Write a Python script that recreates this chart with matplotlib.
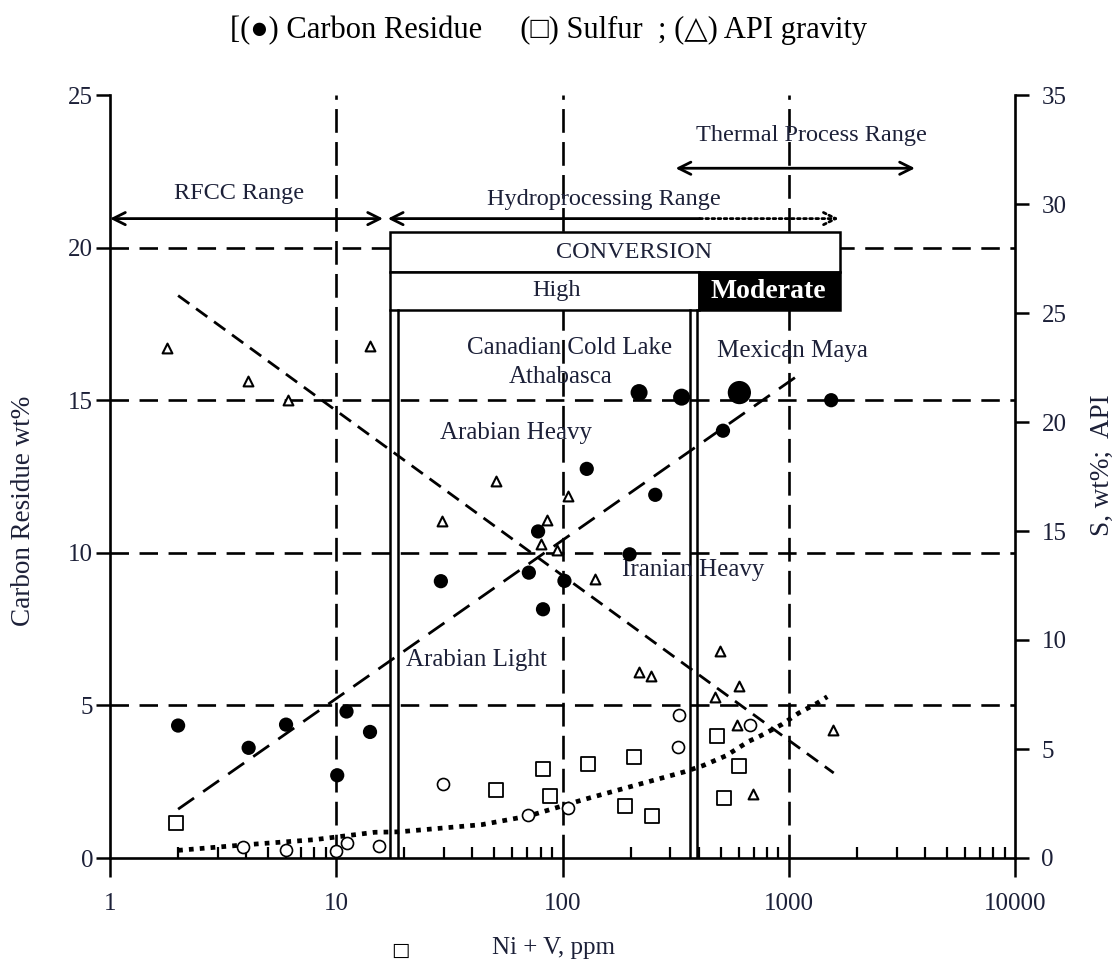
import numpy as np
import matplotlib
matplotlib.use('Agg')
import matplotlib.pyplot as plt
from matplotlib.patches import Rectangle
from matplotlib.ticker import FixedLocator, LogLocator, NullFormatter, FixedFormatter

plt.rcParams['font.family'] = ['Liberation Serif', 'DejaVu Sans']

# ---------------- data ----------------
# Carbon residue, wt% (left axis)
carbon_x = [2.0, 4.1, 6.0, 10.1, 11.1, 14.1, 29, 71, 78, 82, 102, 128, 198, 218, 257, 336, 512, 605, 1540]
carbon_y = [4.34, 3.61, 4.37, 2.71, 4.80, 4.13, 9.07, 9.35, 10.7, 8.15, 9.08, 12.75, 9.95, 15.25, 11.9, 15.1, 14.0, 15.25, 15.0]

# API gravity (right axis)
api_x = [1.79, 4.06, 6.12, 14.1, 29.3, 51, 80, 85.5, 94.4, 106, 139.6, 218, 246, 474, 499, 590, 601, 695, 1567]
api_y = [23.4, 21.9, 21.0, 23.5, 15.45, 17.3, 14.4, 15.5, 14.15, 16.6, 12.8, 8.53, 8.37, 7.4, 9.5, 6.1, 7.9, 2.93, 5.87]

# Sulfur, wt% (right axis, open squares)
sulfur_x = [1.95, 50.7, 81.6, 88, 129, 189, 207, 248, 482, 516, 601]
sulfur_y = [1.6, 3.14, 4.1, 2.85, 4.31, 2.38, 4.62, 1.93, 5.6, 2.75, 4.2]

# Sulfur, wt% (right axis, open circles)
other_x = [3.86, 6.0, 10.0, 11.2, 15.4, 29.7, 70.3, 106, 323, 328, 676]
other_y = [0.5, 0.37, 0.3, 0.68, 0.55, 3.4, 1.98, 2.3, 5.07, 6.57, 6.1]

# trend lines
carbon_fit_x = [2.0, 1070]
carbon_fit_y = [1.6, 15.75]
api_fit_x = [2.0, 1580]
api_fit_y = [25.8, 3.9]
sulfur_fit_x = [2.0, 3.9, 8, 14.8, 18.9, 44, 71, 122, 204, 345, 418, 528, 665, 749, 934, 1107, 1334, 1480]
sulfur_fit_y = [0.35, 0.6, 0.84, 1.18, 1.2, 1.53, 1.93, 2.66, 3.3, 3.95, 4.24, 4.69, 5.35, 5.6, 6.13, 6.65, 7.1, 7.4]

# axes ticks
x_ticks = [1, 10, 100, 1000, 10000]
x_tick_labels = ['1', '10', '100', '1000', '10000']
left_ticks = [0, 5, 10, 15, 20, 25]
right_ticks = [0, 5, 10, 15, 20, 25, 30, 35]

# process ranges (x in ppm)
rfcc_range = [1.0, 16.1]
hydro_range = [16.9, 404, 1664]
thermal_range = [316, 3613]
conversion_box = [17.3, 1683]
high_moderate_split = 400
boundary_x = [17.3, 18.8, 365, 392]

# crude labels
crude_names = ['Canadian Cold Lake', 'Athabasca', 'Arabian Heavy', 'Iranian Heavy', 'Arabian Light', 'Mexican Maya']
crude_x = [108, 98.5, 62, 380, 41.7, 1042]
crude_y = [16.72, 15.77, 13.93, 9.44, 6.49, 16.6]

TXT = '#1c2038'

fig = plt.figure(figsize=(11.17, 9.63), dpi=100)
ax = fig.add_axes([110/1117, 1-858/963, 905/1117, 763/963])
ax.set_xscale('log')
ax.set_xlim(1, 10000)
ax.set_ylim(0, 25)
ax2 = ax.twinx()
ax2.set_ylim(0, 35)
ax.set_zorder(1)
ax2.set_zorder(2)
ax.patch.set_visible(True)
ax2.patch.set_visible(False)

# gridlines
for yv in left_ticks[1:-1]:
    ax.axhline(yv, color='k', lw=1.9, dashes=(7, 4), zorder=1)
for xv in x_ticks[1:-1]:
    ax.axvline(xv, color='k', lw=1.9, dashes=(9, 3.5), zorder=1)

# boxes
lw_box = 1.8
ax.add_patch(Rectangle((conversion_box[0], 19.2), conversion_box[1]-conversion_box[0], 1.3,
                       facecolor='white', edgecolor='k', lw=lw_box, zorder=3))
ax.add_patch(Rectangle((conversion_box[0], 17.97), high_moderate_split-conversion_box[0], 1.23,
                       facecolor='white', edgecolor='k', lw=lw_box, zorder=3))
ax.add_patch(Rectangle((high_moderate_split, 17.97), conversion_box[1]-high_moderate_split, 1.23,
                       facecolor='black', edgecolor='k', lw=lw_box, zorder=3))
for bx in boundary_x:
    ax.plot([bx, bx], [0, 17.97], color='k', lw=1.8, zorder=3)

ax.text(208, 19.85, 'CONVERSION', ha='center', va='center', fontsize=17.5, color=TXT, zorder=4)
ax.text(94, 18.58, 'High', ha='center', va='center', fontsize=17.5, color=TXT, zorder=4)
ax.text(816, 18.55, 'Moderate', ha='center', va='center', fontsize=20, color='white',
        fontweight='bold', zorder=4)

# range arrows
arr = dict(arrowstyle='<->', lw=2.0, color='k', mutation_scale=22, shrinkA=0, shrinkB=0)
ax.annotate('', xy=(rfcc_range[0], 20.95), xytext=(rfcc_range[1], 20.95), arrowprops=arr,
            annotation_clip=False, zorder=4)
ax.annotate('', xy=(thermal_range[0], 22.6), xytext=(thermal_range[1], 22.6), arrowprops=arr, zorder=4)
ax.annotate('', xy=(hydro_range[0], 20.95), xytext=(hydro_range[1], 20.95),
            arrowprops=dict(arrowstyle='->', lw=2.0, color='k', mutation_scale=22, shrinkA=0, shrinkB=0), zorder=4)
ax.annotate('', xy=(hydro_range[2], 20.95), xytext=(hydro_range[1], 20.95),
            arrowprops=dict(arrowstyle='->', lw=2.0, color='k', mutation_scale=22, shrinkA=0, shrinkB=0,
                            linestyle=(0, (1, 1.2))), zorder=4)
ax.text(1260, 23.67, 'Thermal Process Range', ha='center', va='center', fontsize=17.5, color=TXT, zorder=4)
ax.text(3.72, 21.77, 'RFCC Range', ha='center', va='center', fontsize=17.5, color=TXT, zorder=4)
ax.text(153, 21.57, 'Hydroprocessing Range', ha='center', va='center', fontsize=17.5, color=TXT, zorder=4)

for name, cx, cy in zip(crude_names, crude_x, crude_y):
    ax.text(cx, cy, name, ha='center', va='center', fontsize=18, color=TXT, zorder=4)

# trend lines
ax.plot(carbon_fit_x, carbon_fit_y, color='k', lw=2.0, dashes=(7, 4), zorder=4)
ax2.plot(api_fit_x, api_fit_y, color='k', lw=2.0, dashes=(5, 3), zorder=4)
ax2.plot(sulfur_fit_x, sulfur_fit_y, color='k', lw=3.4, dashes=(1, 1.3), zorder=4)

# markers
sizes = np.full(len(carbon_x), 105.0)
sizes[[13, 15]] = 150
sizes[17] = 280
ax.scatter(carbon_x, carbon_y, s=sizes, color='k', zorder=5, linewidths=0)
ax2.scatter(api_x, api_y, marker='^', s=50, facecolors='white', edgecolors='k', linewidths=1.5, zorder=5)
ax2.scatter(sulfur_x, sulfur_y, marker='s', s=115, facecolors='white', edgecolors='k', linewidths=1.3, zorder=5)
ax2.scatter(other_x, other_y, marker='o', s=75, facecolors='white', edgecolors='k', linewidths=1.2, zorder=5)

# axes styling
for sp in ['top', 'right']:
    ax.spines[sp].set_visible(False)
for sp in ['top', 'left', 'bottom']:
    ax2.spines[sp].set_visible(False)
ax.spines['left'].set_linewidth(1.9)
ax.spines['bottom'].set_linewidth(1.9)
ax2.spines['right'].set_linewidth(1.9)

ax.xaxis.set_major_locator(FixedLocator(x_ticks))
ax.xaxis.set_major_formatter(FixedFormatter(x_tick_labels))
ax.xaxis.set_minor_locator(LogLocator(base=10, subs=np.arange(2, 10)))
ax.xaxis.set_minor_formatter(NullFormatter())
ax.tick_params(axis='x', which='major', direction='out', length=14, width=1.8, pad=11,
               labelsize=18, labelcolor=TXT)
ax.tick_params(axis='x', which='minor', direction='in', length=8, width=1.6)
ax.set_yticks(left_ticks)
ax.tick_params(axis='y', which='major', direction='out', length=10, width=1.8, pad=2,
               labelsize=18, labelcolor=TXT)
ax2.set_yticks(right_ticks)
ax2.tick_params(axis='y', which='major', direction='out', length=10, width=1.8, pad=9,
                labelsize=18, labelcolor=TXT)

ax.set_ylabel('Carbon Residue wt%', fontsize=19.5, color=TXT)
ax.yaxis.label.set_va('center')
ax.yaxis.set_label_coords(-0.096, 0.455)
ax2.set_ylabel('S, wt%;  API', fontsize=19.5, color=TXT, va='center')
ax2.yaxis.set_label_coords(1.097, 0.515)

fig.text(553/1117, 1-948/963, 'Ni + V, ppm', ha='center', va='center', fontsize=18, color=TXT)
fig.text(400/1117, 1-950/963, '\u25a1', ha='center', va='center', fontsize=14, color='k',
         family=['DejaVu Sans'])

fig.text(549/1117, 1-30/963, '[(\u25cf) Carbon Residue     (\u25a1) Sulfur  ; (\u25b3) API gravity',
         ha='center', va='center', fontsize=22, color='k')

fig.savefig('out.png', dpi=100)
